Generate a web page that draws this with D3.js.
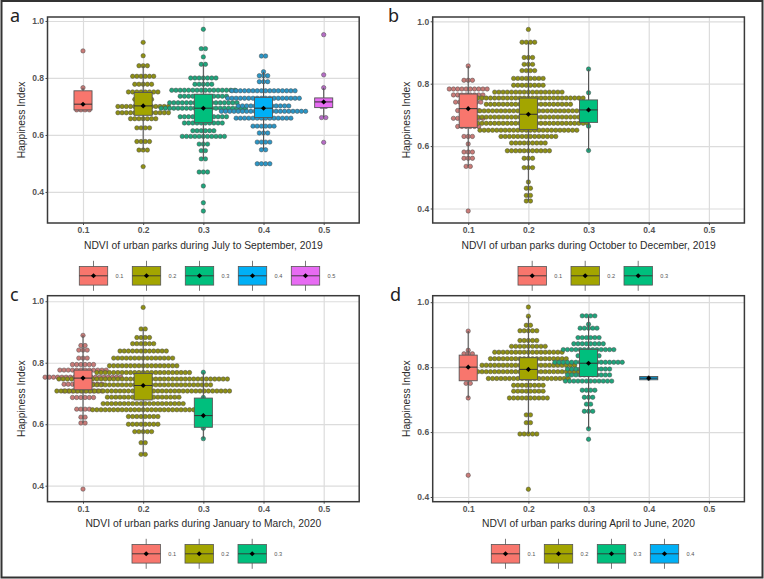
<!DOCTYPE html>
<html>
<head>
<meta charset="utf-8">
<title>Happiness Index by NDVI of urban parks</title>
<script src="https://cdn.jsdelivr.net/npm/d3@7"></script>
<style type="text/css">
html, body{ margin: 0; padding: 0; background: #fff; }
svg{ display: block; }
text{ font-family: "Liberation Sans", Arial, sans-serif; }
.grid line{ stroke: #dcdcdc; stroke-width: 1.2; }
.grid path{ display: none; }
.axis path{ display: none; }
.axis line{ stroke: #444; stroke-width: 1; }
.axis text{ font-size: 8.5px; font-weight: bold; fill: #555; }
.title{ font-size: 10.3px; fill: #2b2b2b; }
.letter{ font-family: "Noto Sans", sans-serif; font-size: 18px; fill: #222; }
.legend text{ font-size: 5.6px; fill: #555; }
</style>
</head>
<body>
<div id="chart"></div>
<script>
// tick labels and groups
var xTicks = [0.1, 0.2, 0.3, 0.4, 0.5];
var yTicks = [0.4, 0.6, 0.8, 1.0];
var groupColors = {0.1: "#F8766D", 0.2: "#A3A500", 0.3: "#00BF7D", 0.4: "#00B0F6", 0.5: "#E76BF3"};
var dotColors = {0.1: "#c97b78", 0.2: "#8f9014", 0.3: "#1fa57c", 0.4: "#2b96c6", 0.5: "#b56cc4"};

// boxes: [ndvi, whisker low, q1, median, q3, whisker high, mean]
var boxesA = [
  [0.1, 0.688, 0.688, 0.708, 0.755, 0.766, 0.708],
  [0.2, 0.547, 0.669, 0.702, 0.749, 0.843, 0.702],
  [0.3, 0.516, 0.643, 0.694, 0.743, 0.848, 0.694],
  [0.4, 0.548, 0.661, 0.694, 0.732, 0.822, 0.694],
  [0.5, 0.661, 0.696, 0.716, 0.730, 0.766, 0.716]
];
var boxesB = [
  [0.1, 0.535, 0.660, 0.720, 0.767, 0.857, 0.720],
  [0.2, 0.424, 0.653, 0.702, 0.754, 0.933, 0.702],
  [0.3, 0.586, 0.676, 0.716, 0.748, 0.847, 0.716]
];
var boxesC = [
  [0.1, 0.604, 0.712, 0.750, 0.776, 0.889, 0.750],
  [0.2, 0.502, 0.679, 0.726, 0.765, 0.910, 0.726],
  [0.3, 0.553, 0.590, 0.628, 0.685, 0.769, 0.628]
];
var boxesD = [
  [0.1, 0.705, 0.758, 0.800, 0.837, 0.911, 0.800],
  [0.2, 0.594, 0.762, 0.793, 0.829, 0.957, 0.793],
  [0.3, 0.610, 0.771, 0.812, 0.855, 0.958, 0.812],
  [0.4, 0.761, 0.761, 0.766, 0.771, 0.771, 0.766]
];

// dot stacks: [happiness, number of parks in the row]
var dotsA01 = [[0.895,1],[0.766,1],[0.73,2],[0.708,3],[0.688,4]];
var dotsA02 = [[0.925,1],[0.878,1],[0.843,3],[0.806,6],[0.778,5],[0.751,8],[0.725,5],[0.700,13],[0.678,13],[0.657,7],[0.625,4],[0.577,4],[0.547,3],[0.489,1]];
var dotsA03 = [[0.971,1],[0.903,2],[0.874,1],[0.848,2],[0.800,7],[0.778,5],[0.757,16],[0.736,12],[0.713,17],[0.694,21],[0.664,12],[0.642,10],[0.615,6],[0.595,11],[0.568,3],[0.545,2],[0.516,2],[0.470,3],[0.421,1],[0.362,1],[0.333,1]];
var dotsA04 = [[0.877,2],[0.822,1],[0.808,3],[0.787,3],[0.755,16],[0.729,18],[0.702,13],[0.683,21],[0.659,14],[0.631,6],[0.607,3],[0.575,4],[0.548,2],[0.499,4]];
var dotsA05 = [[0.952,1],[0.811,1],[0.766,1],[0.72,2],[0.70,2],[0.661,2],[0.574,1]];

var dotsB01 = [[0.857,1],[0.811,3],[0.783,10],[0.764,8],[0.741,7],[0.714,6],[0.689,8],[0.663,6],[0.631,3],[0.607,1],[0.581,3],[0.561,3],[0.535,2],[0.392,1]];
var dotsB02 = [[0.974,1],[0.933,4],[0.884,3],[0.862,3],[0.842,4],[0.817,8],[0.795,8],[0.773,17],[0.754,27],[0.734,21],[0.713,26],[0.693,25],[0.673,29],[0.651,24],[0.631,14],[0.610,9],[0.585,11],[0.561,3],[0.531,3],[0.485,1],[0.465,2],[0.442,2],[0.424,2]];
var dotsB03 = [[0.847,1],[0.771,1],[0.73,3],[0.70,3],[0.664,1],[0.586,1]];

var dotsC01 = [[0.889,1],[0.856,2],[0.841,3],[0.815,3],[0.794,6],[0.776,12],[0.753,19],[0.730,10],[0.708,10],[0.687,6],[0.649,4],[0.623,2],[0.604,2],[0.389,1]];
var dotsC02 = [[0.980,1],[0.910,2],[0.882,4],[0.862,6],[0.838,12],[0.815,15],[0.790,17],[0.768,23],[0.747,41],[0.728,33],[0.708,42],[0.688,18],[0.667,20],[0.647,25],[0.625,8],[0.600,8],[0.576,5],[0.540,2],[0.502,2]];
var dotsC03 = [[0.769,1],[0.687,1],[0.65,2],[0.62,2],[0.587,1],[0.553,1]];

var dotsD01 = [[0.911,1],[0.852,1],[0.841,3],[0.81,2],[0.78,3],[0.750,2],[0.705,1],[0.467,1]];
var dotsD02 = [[0.985,1],[0.957,1],[0.929,2],[0.912,5],[0.882,5],[0.864,9],[0.846,17],[0.826,19],[0.806,23],[0.786,25],[0.765,20],[0.744,8],[0.726,8],[0.705,10],[0.653,2],[0.629,2],[0.594,5],[0.424,1]];
var dotsD03 = [[0.958,4],[0.932,1],[0.920,5],[0.891,6],[0.872,8],[0.854,13],[0.835,6],[0.815,17],[0.794,11],[0.776,11],[0.757,12],[0.729,4],[0.707,3],[0.686,2],[0.664,3],[0.610,1],[0.578,1]];
var dotsD04 = [[0.766,1]];

var xTitles = [
  "NDVI of urban parks during July to September, 2019",
  "NDVI of urban parks during October to December, 2019",
  "NDVI of urban parks during January to March, 2020",
  "NDVI of urban parks during April to June, 2020"
];

var width = 764, height = 579;
var binStep = 0.007; // width of one dot in ndvi units
var boxWidth = 0.03;

var svg = d3.select("#chart").append("svg").attr("width", width).attr("height", height);

svg.append("rect").attr("x", 1.5).attr("y", 1).attr("width", 761).attr("height", 576.5)
  .attr("fill", "#fff").attr("stroke", "#333").attr("stroke-width", 2);

var panels = [
  {letter: "a", lx: 10, ly: 22, left: 47.5, top: 17, yDomain: [0.291, 1.014], title: xTitles[0], boxes: boxesA,
   dots: [dotsA01, dotsA02, dotsA03, dotsA04, dotsA05], legendX: 79.3, legendY: 275.8},
  {letter: "b", lx: 388, ly: 22, left: 432.7, top: 17, yDomain: [0.3535, 1.0138], title: xTitles[1], boxes: boxesB,
   dots: [dotsB01, dotsB02, dotsB03], legendX: 518, legendY: 275.8},
  {letter: "c", lx: 10, ly: 301, left: 47.5, top: 295.7, yDomain: [0.348, 1.018], title: xTitles[2], boxes: boxesC,
   dots: [dotsC01, dotsC02, dotsC03], legendX: 132, legendY: 553.8},
  {letter: "d", lx: 390, ly: 301, left: 432.7, top: 295.7, yDomain: [0.3855, 1.020], title: xTitles[3], boxes: boxesD,
   dots: [dotsD01, dotsD02, dotsD03, dotsD04], legendX: 491.3, legendY: 553.8}
];

var panelW = 311.7, panelH = 206;
var meanMark = d3.symbol().type(d3.symbolSquare).size(13);

panels.forEach(function(p) {
  var g = svg.append("g").attr("transform", `translate(${p.left}, ${p.top})`);
  var x = d3.scaleLinear().domain([0.041, 0.559]).range([0, panelW]);
  var y = d3.scaleLinear().domain(p.yDomain).range([panelH, 0]);

  // grid
  g.append("g").attr("class", "grid")
    .call(d3.axisLeft(y).tickValues(yTicks).tickSize(-panelW).tickFormat(""));
  g.append("g").attr("class", "grid").attr("transform", `translate(0, ${panelH})`)
    .call(d3.axisBottom(x).tickValues(xTicks).tickSize(-panelH).tickFormat(""));

  // dots first, boxes go over all of them
  p.boxes.forEach(function(b, i) {
    var ndvi = b[0], cells = [];
    p.dots[i].forEach(function(row) {
      d3.range(row[1]).forEach(function(k) {
        cells.push({x: ndvi + (k - (row[1] - 1) / 2) * binStep, y: row[0]});
      });
    });
    g.append("g").selectAll("circle").data(cells).enter().append("circle")
      .attr("cx", d => x(d.x)).attr("cy", d => y(d.y)).attr("r", 2.2)
      .attr("fill", dotColors[ndvi]).attr("stroke", "#4a4a4a").attr("stroke-width", 0.5);
  });

  p.boxes.forEach(function(b) {
    var ndvi = b[0], box = g.append("g");
    box.append("line").attr("x1", x(ndvi)).attr("x2", x(ndvi)).attr("y1", y(b[1])).attr("y2", y(b[5]))
      .attr("stroke", "#555").attr("stroke-width", 1.1);
    box.append("rect").attr("x", x(ndvi - boxWidth / 2)).attr("width", x(boxWidth) - x(0))
      .attr("y", y(b[4])).attr("height", y(b[2]) - y(b[4]))
      .attr("fill", groupColors[ndvi]).attr("stroke", "#555").attr("stroke-width", 0.9);
    box.append("line").attr("x1", x(ndvi - boxWidth / 2)).attr("x2", x(ndvi + boxWidth / 2))
      .attr("y1", y(b[3])).attr("y2", y(b[3])).attr("stroke", "#333").attr("stroke-width", 1);
    box.append("path").attr("d", meanMark)
      .attr("transform", `translate(${x(ndvi)}, ${y(b[6])}) rotate(45)`).attr("fill", "#000");
  });

  // panel border
  g.append("rect").attr("width", panelW).attr("height", panelH)
    .attr("fill", "none").attr("stroke", "#3a3a3a").attr("stroke-width", 1.5);

  g.append("g").attr("class", "axis").call(d3.axisLeft(y).tickValues(yTicks).tickSize(2).tickPadding(1.5).tickFormat(d3.format(".1f")));
  g.append("g").attr("class", "axis").attr("transform", `translate(0, ${panelH})`)
    .call(d3.axisBottom(x).tickValues(xTicks).tickSize(2).tickPadding(2).tickFormat(d3.format(".1f")));

  g.append("text").attr("class", "title").attr("text-anchor", "middle")
    .attr("x", panelW / 2).attr("y", panelH + 25.5).text(p.title);
  g.append("text").attr("class", "title").attr("text-anchor", "middle")
    .attr("transform", `translate(-23, ${panelH / 2}) rotate(-90)`).text("Happiness Index");

  svg.append("text").attr("class", "letter").attr("x", p.lx).attr("y", p.ly).text(p.letter);

  // legend
  var legend = svg.append("g").attr("class", "legend");
  p.boxes.forEach(function(b, i) {
    var key = legend.append("g").attr("transform", `translate(${p.legendX + i * 53}, ${p.legendY})`);
    key.append("line").attr("x1", 14.2).attr("x2", 14.2).attr("y1", -15).attr("y2", 15).attr("stroke", "#555").attr("stroke-width", 0.8);
    key.append("rect").attr("y", -9.3).attr("width", 28.4).attr("height", 18.6)
      .attr("fill", groupColors[b[0]]).attr("stroke", "#555").attr("stroke-width", 0.8);
    key.append("line").attr("x1", 0).attr("x2", 28.4).attr("y1", 0).attr("y2", 0).attr("stroke", "#333").attr("stroke-width", 0.9);
    key.append("path").attr("d", meanMark)
      .attr("transform", "translate(14.2, 0) rotate(45)").attr("fill", "#000");
    key.append("text").attr("x", 36.3).attr("y", 2).text(b[0].toFixed(1));
  });
});
</script>
</body>
</html>
